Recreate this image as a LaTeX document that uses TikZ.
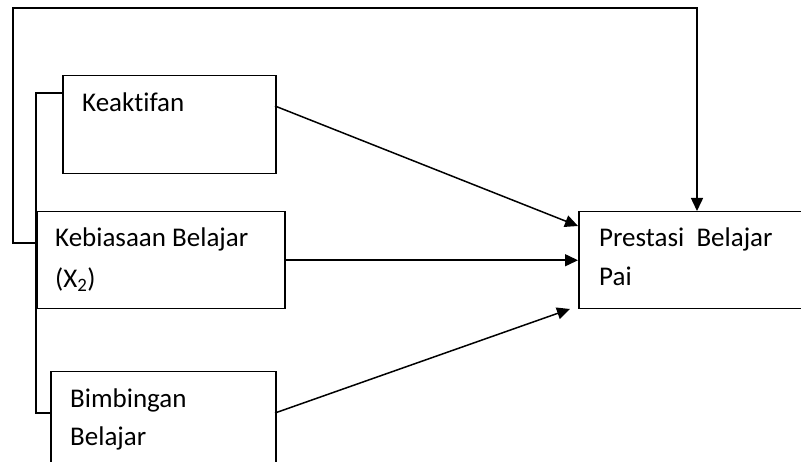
\documentclass[tikz,border=0pt]{standalone}
\usepackage{fontspec}
\setmainfont[Ligatures=NoCommon]{Carlito}
\usetikzlibrary{arrows.meta}
\begin{document}
\begin{tikzpicture}[x=1pt,y=-1pt,
  box/.style={draw,line width=1.5pt,minimum width=#1,inner sep=0pt,anchor=north west},
  lbl/.style={anchor=base west,inner sep=0pt,font=\fontsize{27}{32}\selectfont},
  con/.style={line width=1.5pt},
  arr/.style={line width=1.5pt,-{Triangle[length=13pt,width=12pt]}}]
\useasboundingbox (0,0) rectangle (801,462);
\clip (0,0) rectangle (801,462);
% boxes
\node[box=213pt,minimum height=98pt] (kea) at (62,75) {};
\node[box=248pt,minimum height=97pt] (keb) at (36,211) {};
\node[box=225pt,minimum height=110pt] (bim) at (50,371) {};
\node[box=240pt,minimum height=97pt] (pre) at (578,211) {};
% texts
\node[lbl] (t1) at (82,112) {Keaktifan};
\node[lbl] (t2) at (55,247) {Kebiasaan Belajar};
\node[lbl] (t3) at (55,288) {(X\textsubscript{2})};
\node[lbl] (t4) at (70,407) {Bimbingan};
\node[lbl] (t5) at (70,446) {Belajar};
\node[lbl] (t6) at (599,247) {Prestasi\ \ Belajar};
\node[lbl] (t7) at (599,286) {Pai};
% coordinates
\coordinate (kebin) at (36,243);
\coordinate (loopbl) at (13,243);
\coordinate (looptr) at (697,8);
\coordinate (pretop) at (697,211);
\coordinate (keaL) at (62,93);
\coordinate (brT) at (36,93);
\coordinate (brB) at (36,413);
\coordinate (bimL) at (50,413);
\coordinate (keaR) at (275,106);
\coordinate (preA) at (578,226);
\coordinate (bimR) at (275,413);
\coordinate (preC) at (570,309);
% connectors
\draw[arr] (kebin) -- (loopbl) |- (looptr) -- (pretop);
\draw[con] (keaL) -- (brT) -- (brB) -- (bimL);
\draw[arr] (keaR) -- (preA);
\draw[arr] (keb.east) -- (pre.west);
\draw[arr] (bimR) -- (preC);
\end{tikzpicture}
\end{document}
